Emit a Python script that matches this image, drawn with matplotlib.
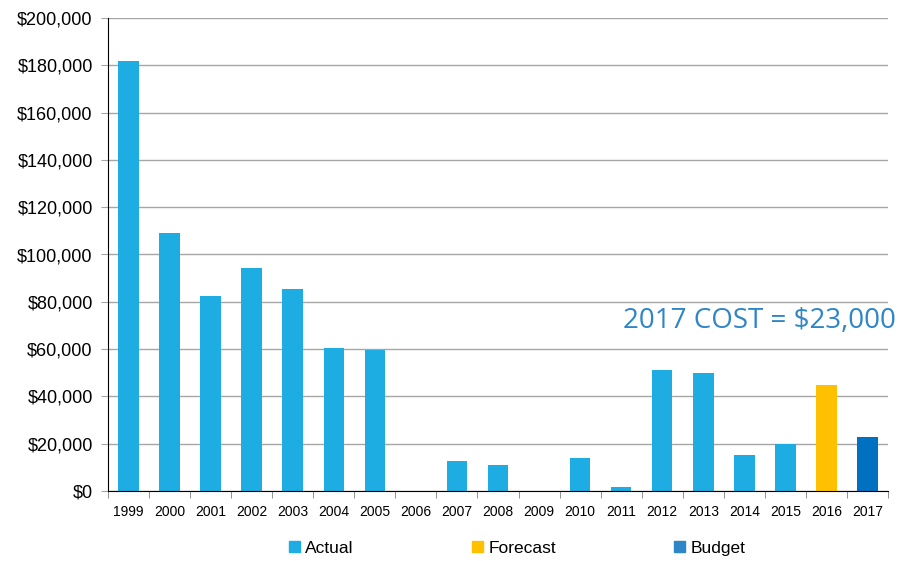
import matplotlib.pyplot as plt
import matplotlib.ticker as mticker
from matplotlib.patches import Patch
import numpy as np

years = ['1999', '2000', '2001', '2002', '2003', '2004', '2005', '2006', '2007', '2008',
         '2009', '2010', '2011', '2012', '2013', '2014', '2015', '2016', '2017']
costs = [181800, 109000, 82400, 94300, 85400, 60500, 59600, 0, 12700, 11000,
         0, 14000, 1700, 51200, 49900, 15200, 19900, 44800, 23000]
kinds = ['Actual'] * 17 + ['Forecast', 'Budget']

colors = {'Actual': '#1EADE3', 'Forecast': '#FFC000', 'Budget': '#0070C0'}
legend_colors = {'Actual': '#1EADE3', 'Forecast': '#FFC000', 'Budget': '#2E86C8'}

plt.rcParams['font.family'] = ['Liberation Sans', 'DejaVu Sans']

fig = plt.figure(figsize=(9.01, 5.61), dpi=100)
ax = fig.add_axes([108 / 901, 70 / 561, 780 / 901, 473 / 561])

ind = np.arange(len(years))
ax.bar(ind, costs, 0.5, color=[colors[k] for k in kinds], zorder=3)

ax.set_xlim(-0.5, len(years) - 0.5)
ax.set_ylim(0, 200000)
ax.yaxis.set_major_locator(mticker.MultipleLocator(20000))
ax.yaxis.set_major_formatter(mticker.StrMethodFormatter('${x:,.0f}'))
ax.grid(axis='y', color='#A6A6A6', linewidth=1, zorder=0)

# year labels centred on bars, tick marks between categories
ax.set_xticks(ind)
ax.set_xticklabels(years, fontsize=10)
ax.tick_params(axis='x', length=0, pad=10)
ax.set_xticks(np.arange(-0.5, len(years)), minor=True)
ax.tick_params(axis='x', which='minor', length=5, color='#808080', direction='out')
ax.tick_params(axis='y', labelsize=13, length=5, color='#A6A6A6', pad=6)

for side in ['top', 'right']:
    ax.spines[side].set_visible(False)
ax.spines['left'].set_color('black')
ax.spines['bottom'].set_color('black')
ax.spines['left'].set_zorder(4)
ax.spines['bottom'].set_zorder(4)

ax.text(1.01, 0.36, '2017 COST = $23,000', transform=ax.transAxes, ha='right', va='center',
        fontsize=20, color='#2E86C8', family=['Open Sans', 'DejaVu Sans'])

handles = [Patch(color=legend_colors[k], label=k) for k in ['Actual', 'Forecast', 'Budget']]
fig.legend(handles=handles, loc='center', bbox_to_anchor=(0.574, 0.023), ncol=3, frameon=False,
           fontsize=12.5, handlelength=0.65, handleheight=0.65, handletextpad=0.3,
           columnspacing=6.8)

fig.savefig('out.png', dpi=100)
